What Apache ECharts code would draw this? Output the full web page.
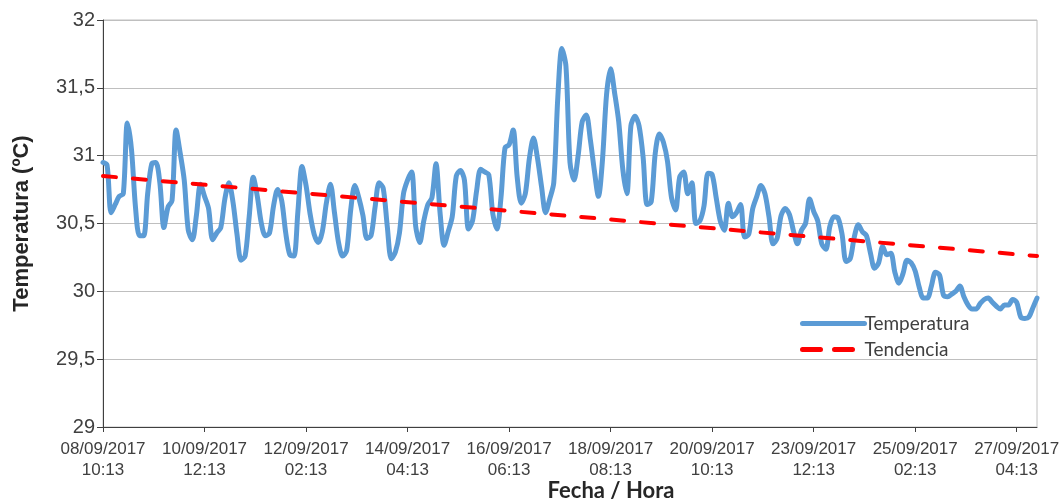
<!DOCTYPE html>
<html>
<head>
<meta charset="utf-8">
<script src="https://cdn.jsdelivr.net/npm/echarts@6/dist/echarts.min.js"></script>
<style>
  html, body { margin: 0; padding: 0; background: #ffffff; }
  #chart { width: 1063px; height: 503px; }
</style>
</head>
<body>
<div id="chart"></div>
<script>
// Date/time labels shown every LABEL_STEP samples along the x axis
const tickLabels = [
  '08/09/2017\n10:13', '10/09/2017\n12:13', '12/09/2017\n02:13', '14/09/2017\n04:13',
  '16/09/2017\n06:13', '18/09/2017\n08:13', '20/09/2017\n10:13', '23/09/2017\n12:13',
  '25/09/2017\n02:13', '27/09/2017\n04:13'
];
const LABEL_STEP = 25;

// Logged water temperature (ºC), one value per sample
const temperatura = [
  30.95, 30.93, 30.58, 30.64, 30.70, 30.72, 31.24, 31.05, 30.62, 30.41,
  30.41, 30.72, 30.94, 30.95, 30.80, 30.47, 30.62, 30.67, 31.19, 31.02,
  30.82, 30.45, 30.38, 30.56, 30.79, 30.70, 30.61, 30.38, 30.43, 30.47,
  30.68, 30.80, 30.66, 30.42, 30.23, 30.26, 30.55, 30.84, 30.70, 30.50,
  30.41, 30.43, 30.63, 30.75, 30.67, 30.43, 30.27, 30.26, 30.59, 30.92,
  30.78, 30.57, 30.42, 30.36, 30.44, 30.65, 30.79, 30.58, 30.36, 30.26,
  30.30, 30.60, 30.78, 30.69, 30.56, 30.39, 30.41, 30.62, 30.80, 30.76,
  30.48, 30.24, 30.29, 30.43, 30.72, 30.82, 30.88, 30.48, 30.36, 30.52,
  30.64, 30.69, 30.94, 30.58, 30.34, 30.44, 30.55, 30.85, 30.89, 30.82,
  30.46, 30.52, 30.74, 30.90, 30.88, 30.86, 30.57, 30.46, 30.69, 31.06,
  31.08, 31.19, 30.84, 30.65, 30.72, 30.98, 31.13, 30.98, 30.77, 30.58,
  30.68, 30.80, 31.43, 31.79, 31.66, 30.95, 30.82, 31.00, 31.25, 31.30,
  31.12, 30.89, 30.70, 30.97, 31.45, 31.64, 31.46, 31.25, 30.90, 30.72,
  31.22, 31.29, 31.22, 30.99, 30.64, 30.66, 31.02, 31.16, 31.10, 30.96,
  30.69, 30.60, 30.84, 30.88, 30.72, 30.80, 30.50, 30.52, 30.63, 30.87,
  30.86, 30.69, 30.52, 30.45, 30.65, 30.55, 30.58, 30.64, 30.40, 30.42,
  30.61, 30.70, 30.78, 30.72, 30.55, 30.35, 30.39, 30.56, 30.61, 30.57,
  30.45, 30.35, 30.45, 30.50, 30.68, 30.59, 30.52, 30.35, 30.31, 30.48,
  30.55, 30.54, 30.42, 30.22, 30.24, 30.40, 30.49, 30.44, 30.41, 30.28,
  30.17, 30.21, 30.33, 30.27, 30.28, 30.14, 30.06, 30.13, 30.23, 30.21,
  30.15, 30.03, 29.95, 29.95, 30.04, 30.14, 30.12, 29.97, 29.96, 29.98,
  30.00, 30.04, 29.96, 29.90, 29.87, 29.87, 29.91, 29.94, 29.95, 29.92,
  29.89, 29.87, 29.90, 29.90, 29.94, 29.92, 29.81, 29.80, 29.81, 29.88,
  29.95
];

// Linear trend: value at the first and at the last sample
const tendenciaInicio = 30.85;
const tendenciaFin = 30.26;

// Y axis range and step (ºC)
const yMin = 29, yMax = 32, yStep = 0.5;

const categories = temperatura.map((_, i) => String(i));
const lastIndex = temperatura.length - 1;
const showEvery = (index) => index % LABEL_STEP === 0;

const chart = echarts.init(document.getElementById('chart'), null, { renderer: 'canvas' });

chart.setOption({
  animation: false,
  backgroundColor: '#ffffff',
  grid: {
    left: 103, right: 26, top: 20, bottom: 76,
    containLabel: false,
    outerBoundsMode: 'none',
    show: true, borderColor: '#c0c0c0', borderWidth: 1
  },
  legend: {
    orient: 'vertical',
    left: 795, top: 309,
    itemWidth: 62, itemHeight: 14, itemGap: 7,
    textStyle: { fontFamily: 'Lato', fontSize: 19, color: '#404040', padding: [0, 0, 0, -5] },
    itemStyle: { opacity: 0 },
    data: [
      { name: 'Temperatura', lineStyle: { width: 5, cap: 'round' } },
      { name: 'Tendencia', lineStyle: { width: 5, type: [18, 14], cap: 'round' } }
    ]
  },
  xAxis: {
    type: 'category',
    data: categories,
    boundaryGap: false,
    name: 'Fecha / Hora',
    nameLocation: 'middle',
    nameGap: 53,
    nameMoveOverlap: false,
    nameTextStyle: {
      fontFamily: 'Lato', fontWeight: 'bold', fontSize: 22, color: '#262626',
      padding: [0, 0, 0, 82]
    },
    axisLine: { lineStyle: { color: '#404040', width: 1 } },
    axisTick: { show: true, interval: (i) => showEvery(i), length: 5, lineStyle: { color: '#404040' } },
    axisLabel: {
      interval: (i) => showEvery(i),
      formatter: (value, index) => tickLabels[index / LABEL_STEP] || '',
      fontFamily: 'Liberation Sans', fontSize: 17, color: '#404040',
      lineHeight: 21, margin: 12
    },
    splitLine: { show: false }
  },
  yAxis: {
    type: 'value',
    min: yMin, max: yMax, interval: yStep,
    name: 'Temperatura (ºC)',
    nameLocation: 'middle',
    nameGap: 70,
    nameMoveOverlap: false,
    nameTextStyle: { fontFamily: 'Liberation Sans', fontWeight: 'bold', fontSize: 22, color: '#262626' },
    axisLine: { show: true, lineStyle: { color: '#404040', width: 1 } },
    axisTick: { show: true, length: 6, lineStyle: { color: '#404040' } },
    axisLabel: {
      formatter: (v) => String(v).replace('.', ','),
      fontFamily: 'Liberation Sans', fontSize: 20, color: '#404040', margin: 8
    },
    splitLine: { lineStyle: { color: '#bfbfbf', width: 1 } }
  },
  series: [
    {
      name: 'Temperatura',
      type: 'line',
      data: temperatura,
      symbol: 'none',
      smooth: 0.3,
      lineStyle: { color: '#5b9bd5', width: 5, join: 'round', cap: 'round' },
      itemStyle: { color: '#5b9bd5' }
    },
    {
      name: 'Tendencia',
      type: 'line',
      data: [[0, tendenciaInicio], [lastIndex, tendenciaFin]],
      symbol: 'none',
      lineStyle: { color: '#ff0000', width: 4, type: [13, 17], cap: 'round' },
      itemStyle: { color: '#ff0000' }
    }
  ]
});
</script>
</body>
</html>
